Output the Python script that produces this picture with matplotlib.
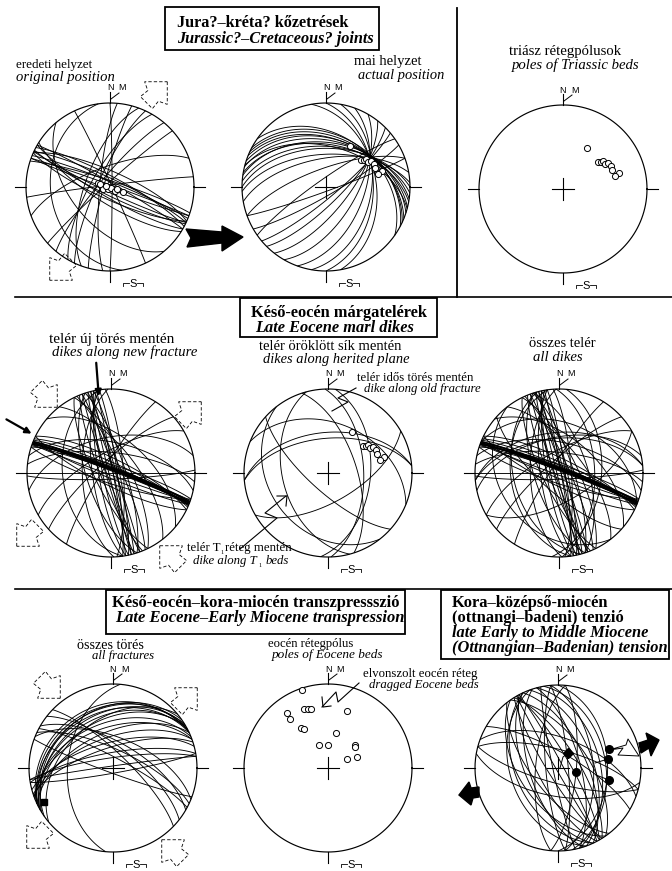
import numpy as np
import matplotlib
matplotlib.use("Agg")
import matplotlib.pyplot as plt
from matplotlib.patches import Polygon, Rectangle

W, H = 672, 871
plt.rcParams['font.family'] = ['Liberation Serif', 'DejaVu Serif']

joints_original = [(22, 85), (25, 82), (28, 80), (200, 88), (205, 85), (206, 82), (20, 88), (30, 86),
                   (18, 84), (210, 80), (204, 78), (24, 75), (212, 74), (230, 52), (310, 80), (285, 84),
                   (295, 78), (300, 72), (290, 66), (340, 70), (65, 88), (353, 88), (90, 88),
                   (275, 80), (318, 86), (262, 30)]
joints_actual = [(10, 48), (14, 44), (18, 42), (22, 42), (0, 52), (4, 50), (357, 58), (350, 62),
                 (28, 38), (35, 38), (8, 46), (340, 72), (25, 40), (15, 50), (90, 43), (100, 45),
                 (110, 52), (120, 60), (128, 68), (135, 75), (140, 80), (80, 40),
                 (325, 82), (150, 82), (160, 86)]
triassic_poles = [(30, 43), (52.4, 46.8), (55, 44), (54.9, 41), (59, 41), (59.8, 38.4),
                  (64, 36.6), (68.5, 37.4), (74, 31), (75.7, 36)]
restored_poles = [(290, 77.6), (252, 82.9), (220, 87), (117, 88.7), (130, 84), (111, 77),
                  (285, 86.3), (108, 83), (284, 79.6)]

new_dikes = [(21, 88), (20, 86), (22, 85), (21, 84), (19, 87), (23, 83), (200, 88), (202, 85), (24, 80),
             (18, 82), (198, 80), (26, 76), (206, 78), (76, 88), (74, 85), (78, 82), (70, 86), (256, 88),
             (254, 85), (258, 82), (250, 86), (80, 88), (82, 84), (66, 80), (260, 78), (248, 80), (72, 76),
             (64, 72), (262, 72), (86, 78), (244, 74), (252, 66), (268, 62), (262, 42), (0, 90), (178, 84),
             (6, 70), (348, 55), (12, 60), (330, 70), (318, 78), (302, 82), (40, 55), (52, 66)]
herited_dikes = [(355, 50), (355, 56), (22, 40), (255, 45), (232, 30), (72, 62), (222, 72), (150, 62),
                 (88, 55), (95, 48)]

all_fractures = [(335, 25), (333, 28), (330, 30), (335, 33), (328, 35), (332, 38), (330, 42), (338, 45),
                 (340, 50), (335, 55), (340, 60), (345, 65), (342, 70), (350, 75), (352, 80), (28, 80),
                 (25, 72), (200, 85), (22, 60), (30, 65), (275, 45), (352, 88), (170, 85), (38, 70),
                 (44, 76), (325, 30), (320, 42)]
eocene_poles = [(341.7, 3), (337.7, 24.8), (341.4, 26.4), (344.3, 27.4), (323.3, 19.4), (322.6, 27),
                (325.7, 41.8), (328, 45), (12.4, 54.8), (339, 65.8), (0, 67.4), (18.2, 29.8),
                (50, 55.4), (52, 56.4), (63.4, 69.8), (69, 60)]

tension_planes = [(62, 85), (60, 78), (58, 70), (65, 62), (70, 55), (240, 88), (238, 80), (242, 70),
                  (245, 58), (235, 52), (75, 68), (85, 80), (85, 55), (95, 72), (265, 78), (275, 68),
                  (15, 72), (20, 60), (190, 62), (30, 75), (55, 60), (252, 62), (258, 85), (232, 65),
                  (80, 42), (75, 48), (90, 40), (245, 48), (250, 42), (195, 75)]
tension_circles = [(70, 34.8), (79.4, 38.4), (102, 71.6), (102.9, 36.8)]
tension_diamonds = [(33.7, 72.2)]

# centre x, centre y, radius in pixels of each net
net1 = (110, 187, 84)
net2 = (326, 187, 84)
net3 = (563, 189, 84)
net4 = (111, 473, 84)
net5 = (328, 473, 84)
net6 = (559, 473, 84)
net7 = (113, 768, 84)
net8 = (328, 768, 84)
net9 = (558, 768, 83)

fig = plt.figure(figsize=(W / 100, H / 100), dpi=100)
LIM = 1.35


def project(trend, plunge):
    r = np.sqrt(2) * np.sin(np.radians(90 - plunge) / 2)
    t = np.radians(trend)
    return r * np.sin(t), r * np.cos(t)


def arc(ax, dipdir, dip, lw=0.65):
    d = np.radians(dipdir)
    dp = np.radians(dip)
    t = np.linspace(0, np.pi, 80)
    sx, sy = np.sin(d - np.pi / 2), np.cos(d - np.pi / 2)
    dx, dy, dz = np.cos(dp) * np.sin(d), np.cos(dp) * np.cos(d), -np.sin(dp)
    x = np.cos(t) * sx + np.sin(t) * dx
    y = np.cos(t) * sy + np.sin(t) * dy
    z = np.sin(t) * dz
    trend = np.degrees(np.arctan2(x, y))
    plunge = np.degrees(np.arcsin(np.clip(-z, -1, 1)))
    px, py = project(trend, plunge)
    ax.plot(px, py, color='k', lw=lw, solid_capstyle='butt')


def make_net(net, planes=(), poles=(), cross=True):
    cx, cy, R = net
    ax = fig.add_axes([(cx - LIM * R) / W, 1 - (cy + LIM * R) / H, 2 * LIM * R / W, 2 * LIM * R / H])
    ax.set_xlim(-LIM, LIM)
    ax.set_ylim(-LIM, LIM)
    ax.axis('off')
    a = np.linspace(0, 2 * np.pi, 300)
    ax.plot(np.cos(a), np.sin(a), color='k', lw=0.85)
    # ticks and centre cross
    k = 'k'
    t = 11 / R
    ax.plot([-1 - t, -1], [0, 0], color=k, lw=0.8)
    ax.plot([1, 1 + t], [0, 0], color=k, lw=0.8)
    ax.plot([0, 0], [1, 1 + t], color=k, lw=0.8)
    ax.plot([0, 0], [-1, -1 - t], color=k, lw=0.8)
    if cross:
        c = 11 / R
        ax.plot([-c, c], [0, 0], color=k, lw=0.8)
        ax.plot([0, 0], [-c, c], color=k, lw=0.8)
    # north / magnetic north
    u = 1 / R
    ax.text(0, 1 + 15 * u, 'N', fontsize=6.5, family='Liberation Sans', ha='center', va='center')
    ax.text(12 * u, 1 + 15 * u, 'M', fontsize=6.5, family='Liberation Sans', ha='center', va='center')
    ax.plot([u, 9 * u], [1 + 4 * u, 1 + 10 * u], color=k, lw=0.7)
    # south sign
    ax.text(23 * u, -1 - 13 * u, 'S', fontsize=8, family='Liberation Sans', ha='center', va='center')
    ax.plot([13 * u, 13 * u, 19 * u], [-1 - 15 * u, -1 - 12 * u, -1 - 12 * u], color=k, lw=0.6)
    ax.plot([27 * u, 33 * u, 33 * u], [-1 - 12 * u, -1 - 12 * u, -1 - 15 * u], color=k, lw=0.6)
    for dd, dip in planes:
        arc(ax, dd, dip)
    for tr, pl in poles:
        x, y = project(tr, pl)
        ax.plot(x, y, 'o', ms=4.4, mfc='white', mec='k', mew=0.7, zorder=5)
    return ax


ax1 = make_net(net1, joints_original, restored_poles, cross=False)
ax2 = make_net(net2, joints_actual, triassic_poles)
ax3 = make_net(net3, (), triassic_poles)
ax4 = make_net(net4, new_dikes, (), cross=False)
for dd, dip in [(21, 87), (22, 86), (20, 85)]:
    arc(ax4, dd, dip, lw=1.2)
ax5 = make_net(net5, herited_dikes, triassic_poles)
ax6 = make_net(net6, new_dikes + herited_dikes, (), cross=False)
for dd, dip in [(21, 87), (22, 86), (20, 85)]:
    arc(ax6, dd, dip, lw=1.2)
ax7 = make_net(net7, all_fractures, ())
ax8 = make_net(net8, (), eocene_poles)
ax9 = make_net(net9, tension_planes, ())
for tr, pl in tension_circles:
    ax9.plot(*project(tr, pl), 'o', ms=5.5, color='k', zorder=5)
for tr, pl in tension_diamonds:
    ax9.plot(*project(tr, pl), 'D', ms=5, color='k', zorder=5)
ax7.plot(*project(244, 9), 's', ms=4, color='k')

# page overlay in pixel coordinates
pg = fig.add_axes([0, 0, 1, 1], zorder=20)
pg.set_xlim(0, W)
pg.set_ylim(H, 0)
pg.axis('off')


def box(x0, y0, x1, y1):
    pg.add_patch(Rectangle((x0, y0), x1 - x0, y1 - y0, fc='white', ec='k', lw=1.3))


def label(x, y, s, italic=False, size=10.5, bold=False):
    pg.text(x, y, s, fontsize=size, style='italic' if italic else 'normal',
            weight='bold' if bold else 'normal', va='center', ha='left')


# section rules
pg.plot([15, 672], [297, 297], color='k', lw=1.2)
pg.plot([457, 457], [8, 297], color='k', lw=1.3)
pg.plot([15, 672], [589, 589], color='k', lw=1.2)

box(165, 7, 379, 50)
label(177, 23, 'Jura?–kréta? kőzetrések', bold=True, size=11.7)
label(177, 39, 'Jurassic?–Cretaceous? joints', bold=True, italic=True, size=11.7)
box(240, 298, 437, 337)
label(251, 313, 'Késő-eocén márgatelérek', bold=True, size=11.8)
label(255, 328, 'Late Eocene marl dikes', bold=True, italic=True, size=11.8)
box(106, 590, 405, 634)
label(112, 603, 'Késő-eocén–kora-miocén transzpressszió', bold=True, size=11.9)
label(115, 618, 'Late Eocene–Early Miocene transpression', bold=True, italic=True, size=11.9)
box(441, 590, 669, 659)
label(452, 603, 'Kora–középső-miocén', bold=True, size=11.9)
label(452, 618, '(ottnangi–badeni) tenzió', bold=True, size=11.9)
label(452, 633, 'late Early to Middle Miocene', bold=True, italic=True, size=11.8)
label(452, 648, '(Ottnangian–Badenian) tension', bold=True, italic=True, size=11.8)

label(16, 65, 'eredeti helyzet', size=9.4)
label(16, 78, 'original position', italic=True)
label(354, 62, 'mai helyzet')
label(358, 76, 'actual position', italic=True, size=10.4)
label(509, 51, 'triász rétegpólusok', size=10.6)
label(512, 65, 'poles of Triassic beds', italic=True, size=10.6)
label(49, 339, 'telér új törés mentén', size=11)
label(52, 352, 'dikes along new fracture', italic=True)
label(259, 346, 'telér öröklött sík mentén')
label(263, 359, 'dikes along herited plane', italic=True, size=10.4)
label(357, 378, 'telér idős törés mentén', size=9.2)
label(364, 389, 'dike along old fracture', italic=True, size=9.2)
label(529, 343, 'összes telér')
label(533, 357, 'all dikes', italic=True, size=10.6)
label(187, 548, 'telér T', size=9.2)
label(220, 552, '1', size=4.5)
label(225, 548, 'réteg mentén', size=9.2)
label(193, 561, 'dike along T', italic=True, size=9.2)
label(258, 565, '1', size=4.5)
label(266, 561, 'beds', italic=True, size=9.2)
label(77, 645, 'összes törés', size=10.2)
label(92, 656, 'all fractures', italic=True, size=9.2)
label(268, 644, 'eocén rétegpólus', size=9.1)
label(272, 655, 'poles of Eocene beds', italic=True, size=9.5)
label(363, 674, 'elvonszolt eocén réteg', size=9.2)
label(369, 685, 'dragged Eocene beds', italic=True, size=9.2)

ARROW_SHAPE = np.array([[14.5, 0], [-1.5, 16], [-5.5, 7.5], [-15, 8.5], [-15, -8.5], [-5.5, -7.5], [-1.5, -16]])


def hollow_arrow(x, y, angle):
    # dashed outline of a broad arrow, centred on x, y and pointing along angle (screen degrees)
    a = np.radians(angle)
    rot = np.array([[np.cos(a), -np.sin(a)], [np.sin(a), np.cos(a)]])
    pts = ARROW_SHAPE @ rot.T + [x, y]
    pg.add_patch(Polygon(pts, closed=True, fc='none', ec='k', lw=0.6, ls=(0, (4, 2.5))))


for x, y, ang in [(157, 92, -45), (60, 270, 135), (47, 397, 45), (191, 412, -45), (27, 536, 135),
                  (170, 556, -135), (50, 688, 45), (187, 698, -45), (37, 838, 135), (172, 850, -135)]:
    hollow_arrow(x, y, ang)

# big arrow between the first two nets
pg.add_patch(Polygon([(186, 229), (222, 232), (222, 226), (243, 237), (222, 251), (222, 243), (187, 247), (191, 238)], fc='k', ec='k'))
# extension arrows
pg.add_patch(Polygon([(639, 743), (648, 740), (646, 733), (659, 740), (651, 756), (649, 748), (641, 753)], fc='k', ec='k'))
pg.add_patch(Polygon([(479, 787), (471, 788), (469, 782), (459, 795), (471, 805), (473, 798), (479, 797)], fc='k', ec='k'))

# pointers
pg.annotate('', xy=(34, 435), xytext=(4, 418), arrowprops=dict(arrowstyle='-|>', lw=1.6, color='k', mutation_scale=9))
pg.annotate('', xy=(99, 399), xytext=(96, 360), arrowprops=dict(arrowstyle='-|>', lw=1.6, color='k', mutation_scale=9))
pg.plot([356, 338, 348, 332], [388, 398, 402, 411], color='k', lw=0.8)
pg.plot([240, 277, 265, 286], [549, 518, 513, 496], color='k', lw=0.8)
pg.plot([277, 287, 286], [496, 496, 506], color='k', lw=0.8)
pg.plot([359, 338, 336, 322], [683, 702, 692, 707], color='k', lw=0.8)
pg.plot([322, 323, 331], [697, 707, 706], color='k', lw=0.8)
# small zigzags in the last net
pg.plot([560, 563, 568], [768, 757, 753], color='k', lw=0.7)
pg.plot([609, 626, 628, 639, 618, 623, 609], [750, 745, 739, 756, 755, 748, 750], color='k', lw=0.7)
pg.plot([595, 608], [763, 759], color='k', lw=0.7)
pg.plot([596, 609], [775, 780], color='k', lw=0.7)

fig.savefig('out.png', dpi=100, facecolor='white')
